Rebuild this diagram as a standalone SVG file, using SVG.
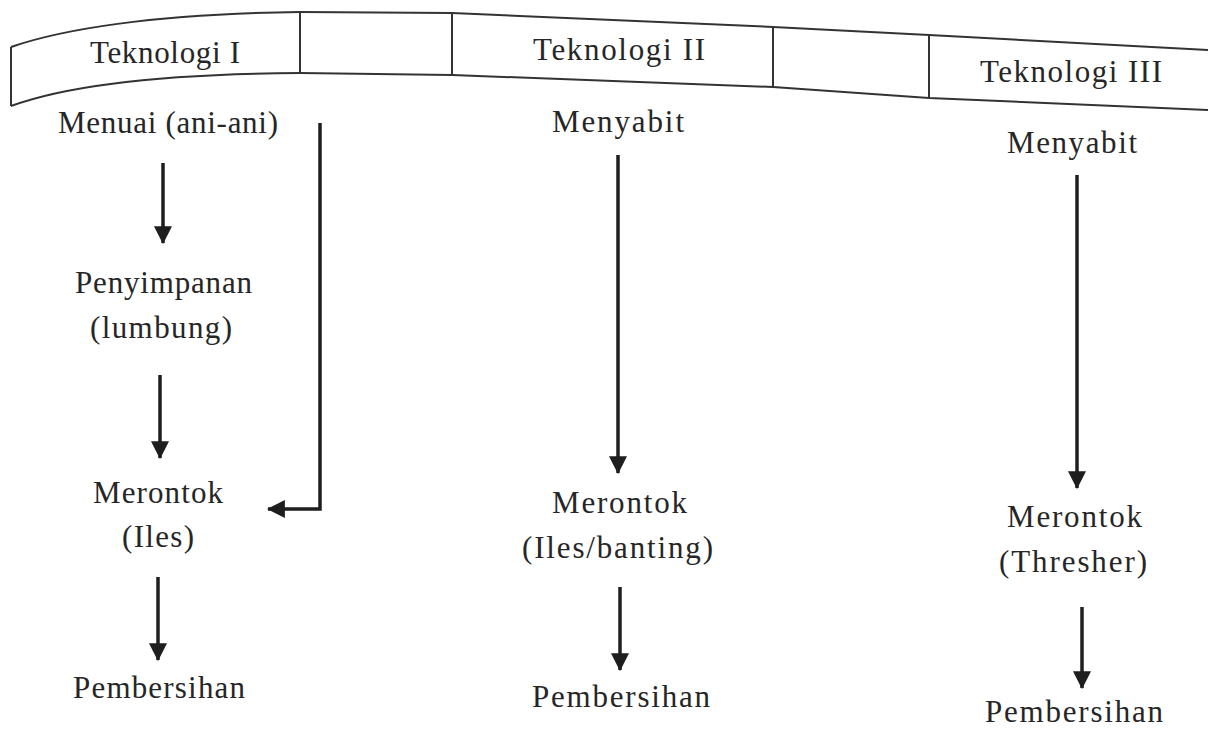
<svg xmlns="http://www.w3.org/2000/svg" width="1208" height="729" viewBox="0 0 1208 729">
<style>
.t{font-family:"Liberation Serif","Times New Roman",serif;font-size:31px;fill:#262626;}
.ban{fill:none;stroke:#333;stroke-width:2;stroke-linejoin:round;}
.c{fill:none;stroke:#1e1e1e;stroke-width:3.5;}
</style>
<defs>
<marker id="ah" markerUnits="userSpaceOnUse" markerWidth="18" markerHeight="18" viewBox="0 0 16 16" refX="15" refY="8" orient="auto">
<path d="M0,0 L16,8 L0,16 Z" fill="#1e1e1e"/>
</marker>
</defs>
<rect width="1208" height="729" fill="#ffffff"/>
<g id="banner">
<path class="ban" d="M11,47 C60,30 150,14 300,12 L452,13 L773,27 L929,35 L1208,50"/>
<path class="ban" d="M11,106 C60,88 150,74 300,73 L452,75 L773,87 L929,98 L1208,110"/>
<line class="ban" x1="11" y1="47" x2="11" y2="106"/>
<line class="ban" x1="300" y1="12" x2="300" y2="73"/>
<line class="ban" x1="452" y1="13" x2="452" y2="75"/>
<line class="ban" x1="773" y1="27" x2="773" y2="87"/>
<line class="ban" x1="929" y1="35" x2="929" y2="98"/>
</g>
<g id="head-tek1"><text class="t" x="90" y="63" textLength="150" lengthAdjust="spacing">Teknologi I</text></g>
<g id="head-tek2"><text class="t" x="533" y="60" textLength="172" lengthAdjust="spacing">Teknologi II</text></g>
<g id="head-tek3"><text class="t" x="980" y="82" textLength="182" lengthAdjust="spacing">Teknologi III</text></g>

<g id="n1-menuai"><text class="t" x="58" y="133" textLength="220" lengthAdjust="spacing">Menuai (ani-ani)</text></g>
<g id="n1-penyimpanan">
<text class="t" x="75" y="293" textLength="177" lengthAdjust="spacing">Penyimpanan</text>
<text class="t" x="90" y="338" textLength="142" lengthAdjust="spacing">(lumbung)</text>
</g>
<g id="n1-merontok">
<text class="t" x="93" y="503" textLength="130" lengthAdjust="spacing">Merontok</text>
<text class="t" x="122" y="547" textLength="72" lengthAdjust="spacing">(Iles)</text>
</g>
<g id="n1-pembersihan"><text class="t" x="73" y="698" textLength="172" lengthAdjust="spacing">Pembersihan</text></g>

<g id="n2-menyabit"><text class="t" x="552" y="132" textLength="132" lengthAdjust="spacing">Menyabit</text></g>
<g id="n2-merontok">
<text class="t" x="552" y="513" textLength="135" lengthAdjust="spacing">Merontok</text>
<text class="t" x="522" y="558" textLength="191" lengthAdjust="spacing">(Iles/banting)</text>
</g>
<g id="n2-pembersihan"><text class="t" x="532" y="707" textLength="178" lengthAdjust="spacing">Pembersihan</text></g>

<g id="n3-menyabit"><text class="t" x="1007" y="153" textLength="130" lengthAdjust="spacing">Menyabit</text></g>
<g id="n3-merontok">
<text class="t" x="1007" y="527" textLength="135" lengthAdjust="spacing">Merontok</text>
<text class="t" x="999" y="572" textLength="148" lengthAdjust="spacing">(Thresher)</text>
</g>
<g id="n3-pembersihan"><text class="t" x="985" y="722" textLength="178" lengthAdjust="spacing">Pembersihan</text></g>

<g id="connectors">
<line class="c" x1="163" y1="163" x2="163" y2="243" marker-end="url(#ah)"/>
<line class="c" x1="160" y1="375" x2="160" y2="458" marker-end="url(#ah)"/>
<line class="c" x1="158" y1="577" x2="158" y2="660" marker-end="url(#ah)"/>
<polyline class="c" points="320,123 320,509 268,509" marker-end="url(#ah)"/>
<line class="c" x1="618" y1="155" x2="618" y2="473" marker-end="url(#ah)"/>
<line class="c" x1="620" y1="587" x2="620" y2="670" marker-end="url(#ah)"/>
<line class="c" x1="1077" y1="175" x2="1077" y2="488" marker-end="url(#ah)"/>
<line class="c" x1="1082" y1="607" x2="1082" y2="688" marker-end="url(#ah)"/>
</g>
</svg>
